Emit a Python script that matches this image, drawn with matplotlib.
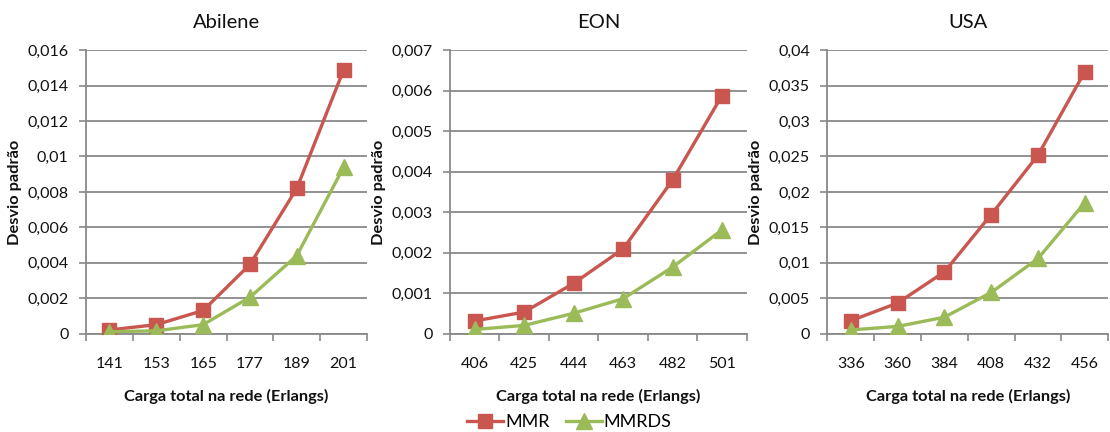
import matplotlib.pyplot as plt
import numpy as np

plt.rcParams['font.family'] = ['Lato', 'DejaVu Sans']

# cargas (Erlangs) por topologia
abilene_carga = [141, 153, 165, 177, 189, 201]
eon_carga = [406, 425, 444, 463, 482, 501]
usa_carga = [336, 360, 384, 408, 432, 456]

# desvio padrão - MMR
abilene_mmr = [0.0002, 0.0005, 0.0013, 0.0039, 0.0082, 0.0149]
eon_mmr = [0.00031, 0.00053, 0.00124, 0.00209, 0.00379, 0.00588]
usa_mmr = [0.0018, 0.0043, 0.0087, 0.0168, 0.0252, 0.037]

# desvio padrão - MMRDS
abilene_mmrds = [0.0001, 0.00015, 0.0005, 0.00205, 0.0044, 0.0094]
eon_mmrds = [0.0001, 0.0002, 0.0005, 0.00086, 0.00164, 0.00256]
usa_mmrds = [0.0005, 0.001, 0.0023, 0.0058, 0.0106, 0.0185]

titulos = ['Abilene', 'EON', 'USA']
y_max = [0.016, 0.007, 0.04]
y_passo = [0.002, 0.001, 0.005]

cor_mmr = '#C9564F'
cor_mmrds = '#9BBB59'
cinza = '#898989'
texto = '#111111'

fig = plt.figure(figsize=(11.1, 4.32), dpi=100)
posicoes = [
    [0.0775, 0.228, 0.2532, 0.6556],
    [0.4054, 0.228, 0.2673, 0.6556],
    [0.7453, 0.228, 0.2532, 0.6556],
]

dados = [
    (abilene_carga, abilene_mmr, abilene_mmrds),
    (eon_carga, eon_mmr, eon_mmrds),
    (usa_carga, usa_mmr, usa_mmrds),
]

for i, (carga, mmr, mmrds) in enumerate(dados):
    ax = fig.add_axes(posicoes[i])
    x = np.arange(len(carga))
    l1, = ax.plot(x, mmr, color=cor_mmr, lw=2.4, marker='s', ms=10,
                  label='MMR', zorder=3)
    l2, = ax.plot(x, mmrds, color=cor_mmrds, lw=2.4, marker='^', ms=11,
                  label='MMRDS', zorder=3)

    ax.set_xlim(-0.5, len(carga) - 0.5)
    ax.set_ylim(0, y_max[i])
    yt = np.arange(0, y_max[i] + y_passo[i] / 2, y_passo[i])
    ax.set_yticks(yt)
    ax.set_yticklabels([('%g' % round(v, 4)).replace('.', ',') for v in yt])

    # rótulos no centro da categoria, marcas entre categorias
    ax.set_xticks(x)
    ax.set_xticklabels([str(c) for c in carga])
    ax.set_xticks(np.arange(-0.5, len(carga), 1.0), minor=True)
    ax.tick_params(axis='x', which='major', length=0, pad=17, labelsize=11.5,
                   labelcolor=texto)
    ax.tick_params(axis='x', which='minor', length=5, width=1.2, color=cinza,
                   direction='out')
    ax.tick_params(axis='y', length=5, width=1.2, color=cinza, pad=7.5,
                   labelsize=11.5, labelcolor=texto)

    ax.grid(axis='y', color=cinza, lw=1.3)
    ax.set_axisbelow(True)
    for lado in ['top', 'right']:
        ax.spines[lado].set_visible(False)
    for lado in ['left', 'bottom']:
        ax.spines[lado].set_color(cinza)
        ax.spines[lado].set_linewidth(1.3)

    ax.set_title(titulos[i], fontsize=14.5, pad=16, color=texto)
    ax.set_xlabel('Carga total na rede (Erlangs)', fontsize=11.8,
                  fontweight='bold', labelpad=13, color=texto)
    ax.set_ylabel('Desvio padrão', fontsize=11.8, fontweight='bold',
                  labelpad=4, color=texto)

fig.legend([l1, l2], ['MMR', 'MMRDS'], loc='center', ncol=2,
           bbox_to_anchor=(0.513, 0.022), frameon=False, fontsize=13,
           handlelength=2.0, handletextpad=0.1, columnspacing=0.9)

fig.savefig('out.png', dpi=100)
